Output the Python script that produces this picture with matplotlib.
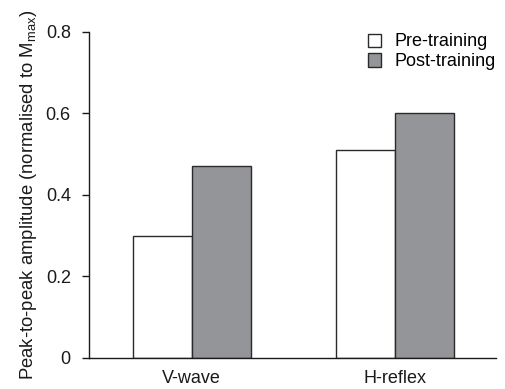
import matplotlib
matplotlib.use("Agg")
import matplotlib.pyplot as plt
import numpy as np

plt.rcParams['font.family'] = ['Liberation Sans', 'DejaVu Sans']

categories = ["V-wave", "H-reflex"]
pre_training = [0.30, 0.51]
post_training = [0.47, 0.60]
yticks = [0, 0.2, 0.4, 0.6, 0.8]
ytick_labels = ["0", "0.2", "0.4", "0.6", "0.8"]

fs = 13
fig = plt.figure(figsize=(5.05, 3.89), dpi=100)
ax = fig.add_axes([0.176, 0.080, 0.806, 0.838])

x = np.arange(len(categories))
w = 0.29
ax.bar(x - w/2, pre_training, w, color="white", edgecolor="#2a2a2a", linewidth=1.0, label="Pre-training")
ax.bar(x + w/2, post_training, w, color="#939598", edgecolor="#2a2a2a", linewidth=1.0, label="Post-training")

ax.set_xlim(-0.507, 1.497)
ax.set_ylim(0, 0.8)
ax.set_yticks(yticks)
ax.set_yticklabels(ytick_labels)
ax.set_xticks(x)
ax.set_xticklabels(categories)
ax.tick_params(axis='x', length=0, pad=9, labelsize=fs, colors="#1a1a1a")
ax.tick_params(axis='y', length=5, width=1, direction='out', labelsize=fs, colors="#1a1a1a", pad=8)
for s in ["top", "right"]:
    ax.spines[s].set_visible(False)
for s in ["left", "bottom"]:
    ax.spines[s].set_linewidth(1.0)
    ax.spines[s].set_color("#1a1a1a")

ax.set_ylabel("Peak-to-peak amplitude (normalised to M$_\\mathregular{max}$)", fontsize=13.3, color="#1a1a1a", labelpad=5)

leg = ax.legend(loc="upper right", bbox_to_anchor=(1.04, 1.045), frameon=False, fontsize=fs,
                handlelength=0.75, handleheight=0.75, handletextpad=0.75, labelspacing=0.15)

fig.savefig("out.png", dpi=100)
